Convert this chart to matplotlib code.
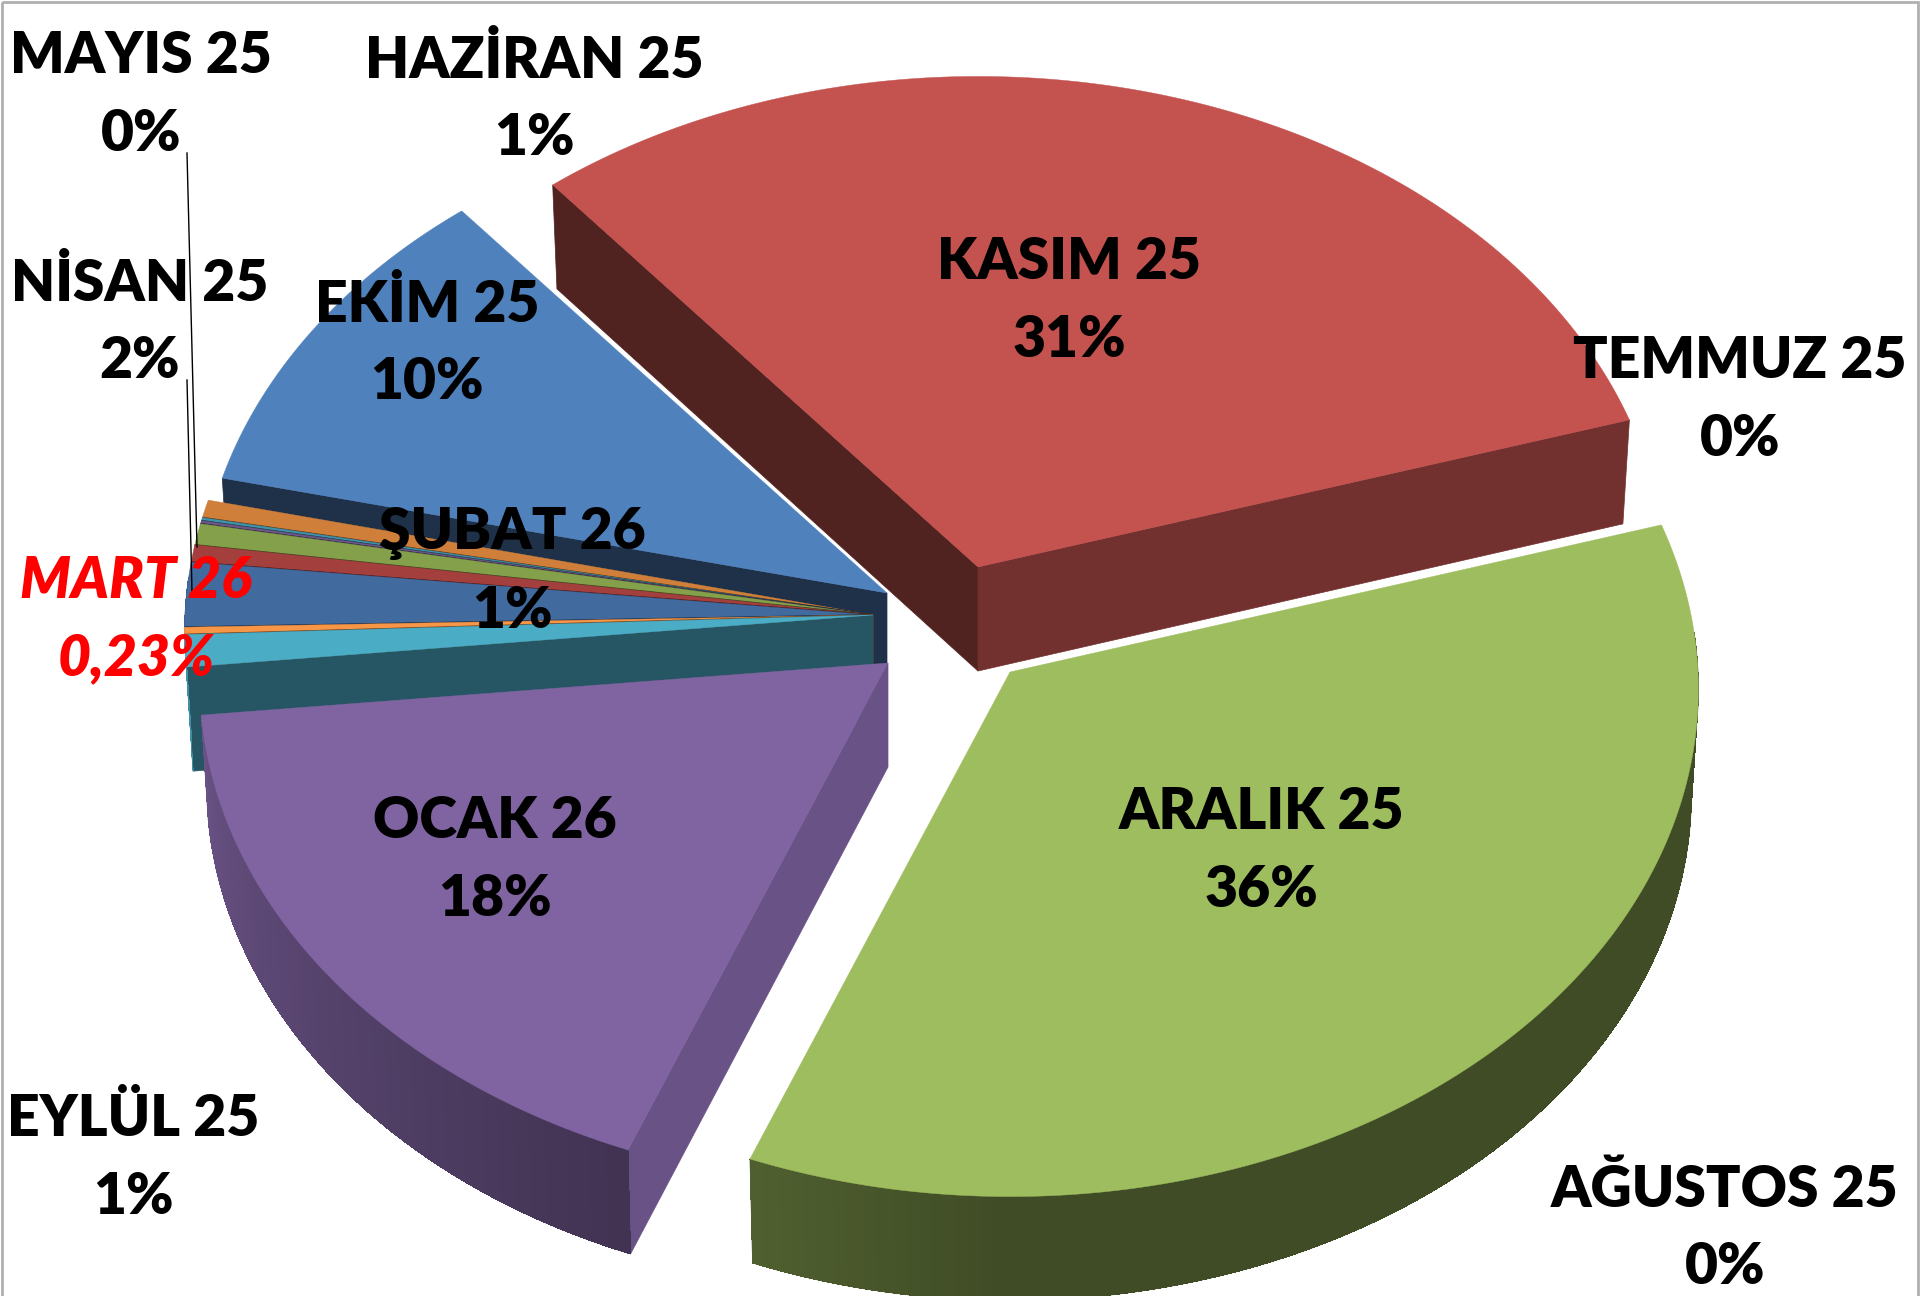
import numpy as np
import matplotlib
matplotlib.use("Agg")
import matplotlib.pyplot as plt
from matplotlib.collections import PolyCollection
from matplotlib.colors import to_rgb

# --- data (clockwise from EKİM) ---
months = ["EKİM 25", "KASIM 25", "ARALIK 25", "OCAK 26", "ŞUBAT 26", "MART 26",
          "NİSAN 25", "MAYIS 25", "HAZİRAN 25", "TEMMUZ 25", "AĞUSTOS 25", "EYLÜL 25"]
values = [10.4, 31.2, 35.7, 17.4, 1.02, 0.23, 2.05, 0.55, 0.68, 0.1, 0.1, 0.57]
shown = ["10%", "31%", "36%", "18%", "1%", "0,23%", "2%", "0%", "1%", "0%", "0%", "1%"]

# --- styles ---
colors = ["#4f81bd", "#c4524f", "#9ebd5e", "#8064a2", "#4bacc6", "#f79646",
          "#416a9f", "#a33f3c", "#84a04b", "#6c5589", "#3f93aa", "#d07f3a"]
start_shade = [0.38, 0.41, 0.5, 0.82, 0.5, 0.5, 0.5, 0.5, 0.5, 0.5, 0.5, 0.5]
end_shade = [0.5, 0.58, 0.5, 0.5, 0.5, 0.5, 0.5, 0.5, 0.5, 0.5, 0.5, 0.5]
apex = [(887, 593), (978, 567), (1010, 672), (888, 663)] + [(873, 615)] * 8
draw_order = [1, 0, 11, 10, 9, 8, 7, 6, 5, 4, 3, 2]
start_angle = -76.8
RX, RY, KP, DEPTH, BOTTOM_X = 688.0, 507.0, 0.0335, 104.0, 0.99

label_pos = {"MAYIS 25": (141, 56), "HAZİRAN 25": (534, 60), "KASIM 25": (1069, 262),
             "TEMMUZ 25": (1740, 361), "NİSAN 25": (140, 283), "EKİM 25": (427, 304),
             "ŞUBAT 26": (512, 533), "MART 26": (136, 581), "ARALIK 25": (1262, 812),
             "OCAK 26": (495, 821), "EYLÜL 25": (133, 1119), "AĞUSTOS 25": (1725, 1189)}
leaders = [((187, 153), (197, 547)), ((187, 380), (192, 592))]

plt.rcParams["font.family"] = ["Lato", "DejaVu Sans"]
fig = plt.figure(figsize=(19.2, 12.96), dpi=100)
ax = fig.add_axes([0, 0, 1, 1])
ax.set_xlim(0, 1920)
ax.set_ylim(1296, 0)
ax.axis("off")


def shade(c, f):
    return tuple(v * f for v in to_rgb(c))


def rim(ap, a):
    u, v = np.sin(a), np.cos(a)
    d = 1 + KP * v
    return np.column_stack([ap[0] + RX * u / d, ap[1] - RY * v / d])


def lower(ap, p):
    out = np.array(p, float)
    out[..., 0] = ap[0] + (out[..., 0] - ap[0]) * BOTTOM_X
    out[..., 1] = out[..., 1] + DEPTH
    return out


def rim_shade(deg):
    deg = deg % 360
    if deg < 180:
        return 0.40
    return 0.40 + (deg - 180) / 90 * 0.45


z = 2.0
total = sum(values)
edges = start_angle + np.cumsum([0] + values) / total * 360
for i in draw_order:
    a0, a1 = edges[i], edges[i + 1]
    ap = np.array(apex[i], float)
    arc = np.radians(np.linspace(a0, a1, max(6, int((a1 - a0) * 2))))
    pts = rim(ap, arc)
    low = lower(ap, pts)
    apl = lower(ap, ap)
    if np.sin(arc[0]) < 0:
        c = shade(colors[i], start_shade[i])
        ax.add_patch(plt.Polygon([ap, pts[0], low[0], apl], closed=True, fc=c, ec=c, lw=0.5, zorder=z))
    if np.sin(arc[-1]) > 0:
        c = shade(colors[i], end_shade[i])
        ax.add_patch(plt.Polygon([ap, pts[-1], low[-1], apl], closed=True, fc=c, ec=c, lw=0.5, zorder=z))
    mask = np.cos(arc) < 0.08
    if mask.sum() >= 2:
        idx = np.where(mask)[0]
        base = shade(colors[i], np.mean([rim_shade(np.degrees(arc[j])) for j in idx]))
        outline = np.vstack([pts[idx], low[idx][::-1]])
        ax.add_patch(plt.Polygon(outline, closed=True, fc=base, ec=base, lw=0.5, zorder=z))
        quads, cols = [], []
        for j in idx[:-1]:
            quads.append([pts[j], pts[j + 1], low[j + 1], low[j]])
            cols.append(shade(colors[i], rim_shade(np.degrees(arc[j]))))
        ax.add_collection(PolyCollection(quads, facecolors=cols, edgecolors="none",
                                         antialiaseds=False, zorder=z))
    ax.add_patch(plt.Polygon(np.vstack([ap, pts]), closed=True, fc=colors[i],
                             ec=colors[i], lw=0.3, zorder=z))
    if i in (5, 6, 7, 8, 9, 10, 11):
        ax.plot([ap[0], pts[0][0]], [ap[1], pts[0][1]], color=shade(colors[i], 0.4), lw=1.2,
                zorder=z, solid_capstyle="butt")
    z += 0.01

for (p, q) in leaders:
    ax.plot([p[0], q[0]], [p[1], q[1]], color="black", lw=1, zorder=4)

for m, s in zip(months, shown):
    x, y = label_pos[m]
    red = m == "MART 26"
    ax.text(x, y + 39, f"{m}\n{s}", ha="center", va="center", fontsize=41, fontweight="heavy",
            fontstyle="italic" if red else "normal", color="#ff0000" if red else "black",
            linespacing=1.59, zorder=5)

# thin frame
ax.add_patch(plt.Rectangle((1.5, 1.5), 1916, 1400, fill=False, ec="#b0b0b0", lw=2, zorder=6))
fig.savefig("out.png", dpi=100)
